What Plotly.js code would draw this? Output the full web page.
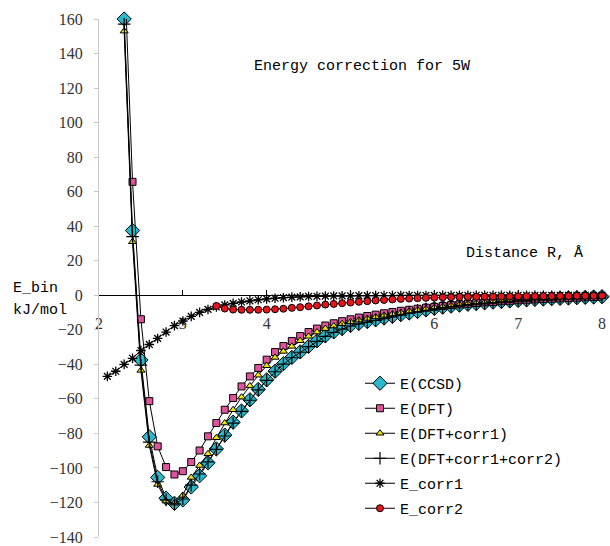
<!DOCTYPE html>
<html>
<head>
<meta charset="utf-8">
<script src="https://cdn.plot.ly/plotly-3.0.1.min.js"></script>
<style>
  html, body { margin: 0; padding: 0; background: #fff; }
  #chart { width: 610px; height: 546px; }
</style>
</head>
<body>
<div id="chart"></div>
<script>
// Interaction energy of the 5W complex against separation (Å), kJ/mol.

// Distance grids
const rMain = [2.3, 2.4, 2.5, 2.6, 2.7, 2.8, 2.9, 3.0, 3.1, 3.2, 3.3, 3.4, 3.5, 3.6, 3.7, 3.8, 3.9,
  4.0, 4.1, 4.2, 4.3, 4.4, 4.5, 4.6, 4.7, 4.8, 4.9, 5.0, 5.1, 5.2, 5.3, 5.4, 5.5, 5.6, 5.7, 5.8, 5.9,
  6.0, 6.1, 6.2, 6.3, 6.4, 6.5, 6.6, 6.7, 6.8, 6.9, 7.0, 7.1, 7.2, 7.3, 7.4, 7.5, 7.6, 7.7, 7.8, 7.9, 8.0];
const rCorr1 = [2.1, 2.2, 2.3, 2.4, 2.5, 2.6, 2.7, 2.8, 2.9, 3.0, 3.1, 3.2, 3.3, 3.4, 3.5, 3.6, 3.7,
  3.8, 3.9, 4.0, 4.1, 4.2, 4.3, 4.4, 4.5, 4.6, 4.7, 4.8, 4.9, 5.0, 5.1, 5.2, 5.3, 5.4, 5.5, 5.6, 5.7,
  5.8, 5.9, 6.0, 6.1, 6.2, 6.3, 6.4, 6.5, 6.6, 6.7, 6.8, 6.9, 7.0, 7.1, 7.2, 7.3, 7.4, 7.5, 7.6, 7.7,
  7.8, 7.9, 8.0];
const rCorr2 = [3.4, 3.5, 3.6, 3.7, 3.8, 3.9, 4.0, 4.1, 4.2, 4.3, 4.4, 4.5, 4.6, 4.7, 4.8, 4.9, 5.0,
  5.1, 5.2, 5.3, 5.4, 5.5, 5.6, 5.7, 5.8, 5.9, 6.0, 6.1, 6.2, 6.3, 6.4, 6.5, 6.6, 6.7, 6.8, 6.9, 7.0,
  7.1, 7.2, 7.3, 7.4, 7.5, 7.6, 7.7, 7.8, 7.9, 8.0];

// Energies, kJ/mol
const eCCSD = [160, 37.5, -37.5, -82, -105.5, -117.5, -120.5, -118.5, -111, -104.5, -97, -89, -81,
  -73.5, -67, -60.5, -54.5, -49, -44, -39.6, -36, -32.8, -29.6, -26.4, -23.5, -21.2, -19.3, -17.5,
  -16.3, -15.2, -14.2, -13.2, -12.2, -11.2, -10.3, -9.4, -8.5, -7.6, -6.9, -6.3, -5.7, -5.2, -4.8,
  -4.4, -4.0, -3.6, -3.3, -3.0, -2.7, -2.4, -2.2, -2.0, -1.8, -1.6, -1.4, -1.2, -1.0, -0.8];
const eDFT = [193, 65.7, -13.9, -61.3, -87.5, -99.5, -103.8, -101.9, -96.6, -89.9, -81.7, -74,
  -66.3, -59.5, -52.8, -47, -42.1, -37.3, -32.9, -29.4, -26.5, -23.6, -21.3, -19.3, -17.5, -16.2,
  -15.0, -13.9, -12.9, -12.0, -11.2, -10.4, -9.7, -9.0, -8.4, -7.8, -7.2, -6.7, -6.2, -5.7, -5.3,
  -4.9, -4.5, -4.1, -3.8, -3.5, -3.2, -2.9, -2.6, -2.4, -2.2, -2.0, -1.8, -1.6, -1.4, -1.2, -1.0, -0.8];
const eDFTc1 = [153, 31, -43.5, -87, -109.6, -119.2, -120.4, -115.9, -105.5, -98.6, -91.8, -82.5,
  -74, -66.3, -59, -52.5, -46.3, -40.8, -36, -32.5, -29.6, -26.3, -23.8, -21.3, -19.3, -17.8, -16.5,
  -15.4, -14.4, -13.4, -12.5, -11.6, -10.8, -10.0, -9.2, -8.5, -7.8, -7.1, -6.5, -5.9, -5.4, -4.9,
  -4.5, -4.1, -3.7, -3.4, -3.1, -2.8, -2.5, -2.3, -2.1, -1.9, -1.7, -1.5, -1.3, -1.1, -0.9, -0.7];
const eDFTc12 = [157, 34, -40.5, -85, -108, -118.5, -120.8, -118, -110, -103.5, -96.5, -89.2, -81.5,
  -74.0, -67.3, -60.8, -54.8, -49.3, -44.3, -39.9, -36.2, -33.0, -29.8, -26.7, -23.8, -21.5, -19.6,
  -17.8, -16.6, -15.5, -14.5, -13.5, -12.5, -11.5, -10.5, -9.6, -8.7, -7.9, -7.2, -6.5, -5.9, -5.4,
  -5.0, -4.6, -4.2, -3.8, -3.5, -3.2, -2.9, -2.6, -2.4, -2.2, -2.0, -1.8, -1.6, -1.4, -1.2, -1.0];
const eCorr1 = [-47, -44, -40, -36.5, -32, -28.5, -25, -21.3, -17.6, -14.9, -12.2, -9.9, -8.2, -6.8,
  -5.6, -4.7, -3.9, -3.2, -2.6, -2.1, -1.7, -1.4, -1.1, -0.9, -0.7, -0.6, -0.5, -0.4, -0.35, -0.3,
  -0.25, -0.2, -0.2, -0.15, -0.15, -0.1, -0.1, -0.1, -0.1, -0.05, -0.05, -0.05, -0.05, -0.05, 0, 0,
  0, 0, 0, 0, 0, 0, 0, 0, 0, 0, 0, 0, 0, 0];
const eCorr2 = [-6.2, -7.7, -8.3, -8.4, -8.4, -8.4, -8.3, -8.1, -7.8, -7.3, -6.9, -6.4, -5.9, -5.4,
  -5.0, -4.6, -4.2, -3.8, -3.4, -3.0, -2.7, -2.4, -2.1, -1.9, -1.7, -1.5, -1.35, -1.2, -1.1, -1.0,
  -0.9, -0.85, -0.8, -0.75, -0.7, -0.65, -0.6, -0.55, -0.5, -0.5, -0.45, -0.4, -0.4, -0.35, -0.3,
  -0.3, -0.25];

const seriesNames = ['E(CCSD)', 'E(DFT)', 'E(DFT+corr1)', 'E(DFT+corr1+corr2)', 'E_corr1', 'E_corr2'];

const MONO = '"Liberation Mono", "DejaVu Sans Mono", monospace';
const SERIF = '"Liberation Serif", "DejaVu Serif", serif';

// plot area in pixels, used to place free-floating labels
const W = 610, H = 546, L = 99, R = 8, T = 19, B = 9;
const px = x => (x - L) / (W - L - R);
const py = y => (H - B - y) / (H - T - B);

function series(i, xs, ys, marker, clip) {
  return {
    x: xs, y: ys, name: seriesNames[i], legendgroup: 'g' + i,
    type: 'scatter', mode: 'lines+markers',
    line: { color: '#000', width: 1 },
    marker: marker,
    cliponaxis: clip
  };
}

const traces = [
  series(0, rMain, eCCSD, { symbol: 'diamond', size: 11, color: '#2BB8CA', line: { color: '#000', width: 1 } }, false),
  series(1, rMain, eDFT, { symbol: 'square', size: 7, color: '#E0529E', line: { color: '#000', width: 1 } }, true),
  series(2, rMain, eDFTc1, { symbol: 'triangle-up', size: 7, color: '#F2E600', line: { color: '#000', width: 1 } }, false),
  series(3, rMain, eDFTc12, { symbol: 'cross-thin', size: 9, color: '#000', line: { color: '#000', width: 1.2 } }, false),
  series(4, rCorr1, eCorr1, { symbol: 'asterisk-open', size: 8, color: '#000', line: { color: '#000', width: 1.3 } }, false),
  series(5, rCorr2, eCorr2, { symbol: 'circle', size: 7, color: '#E8141C', line: { color: '#000', width: 1 } }, false)
];

const layout = {
  width: W, height: H,
  margin: { l: L, r: R, t: T, b: B, pad: 0 },
  paper_bgcolor: '#fff', plot_bgcolor: '#fff',
  showlegend: true,
  title: {
    text: 'Energy correction for 5W',
    font: { family: MONO, size: 15, color: '#000' },
    xref: 'container', yref: 'container',
    x: 362 / W, xanchor: 'center', y: 1 - 65 / H, yanchor: 'middle'
  },
  xaxis: {
    range: [2, 8], tick0: 2, dtick: 1,
    anchor: 'free', position: 140 / 300,
    showline: true, linecolor: '#000', linewidth: 1,
    ticks: 'inside', ticklen: 5, tickcolor: '#000',
    showgrid: false, zeroline: false,
    tickfont: { family: SERIF, size: 16, color: '#333' },
    ticklabelstandoff: 14,
    layer: 'below traces'
  },
  yaxis: {
    range: [-140, 160], tick0: 0, dtick: 20,
    showline: true, linecolor: '#c8c8c8', linewidth: 1,
    ticks: 'outside', ticklen: 4, tickcolor: '#c8c8c8',
    showgrid: false, zeroline: false,
    tickfont: { family: SERIF, size: 16, color: '#333' },
    ticklabelstandoff: 8
  },
  legend: {
    x: px(360), y: py(367), xanchor: 'left', yanchor: 'top',
    bgcolor: 'rgba(0,0,0,0)', borderwidth: 0,
    font: { family: MONO, size: 15, color: '#000' },
    traceorder: 'grouped', tracegroupgap: 2.5
  },
  annotations: [
    { text: 'Distance R, Å', xref: 'paper', yref: 'paper', x: px(524), y: py(253),
      xanchor: 'center', yanchor: 'middle', showarrow: false,
      font: { family: MONO, size: 15, color: '#000' } },
    { text: 'E_bin', xref: 'paper', yref: 'paper', x: px(11), y: py(288),
      xanchor: 'left', yanchor: 'middle', showarrow: false,
      font: { family: MONO, size: 15, color: '#000' } },
    { text: 'kJ/mol', xref: 'paper', yref: 'paper', x: px(11), y: py(310),
      xanchor: 'left', yanchor: 'middle', showarrow: false,
      font: { family: MONO, size: 15, color: '#000' } }
  ]
};

Plotly.newPlot('chart', traces, layout, { displayModeBar: false, staticPlot: true });
</script>
</body>
</html>
